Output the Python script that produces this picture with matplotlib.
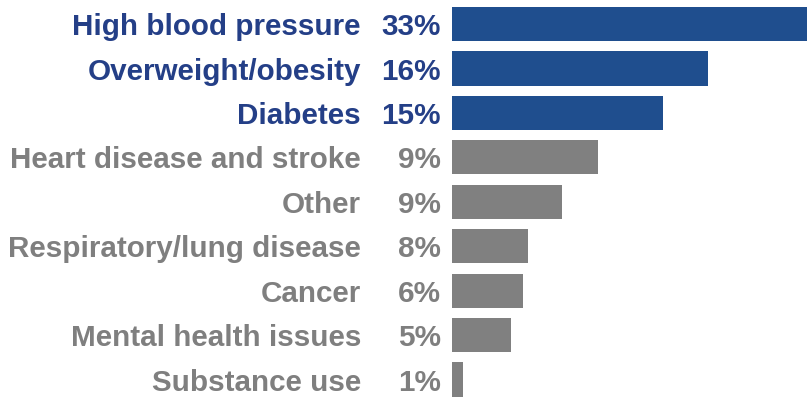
import matplotlib.pyplot as plt
from matplotlib.transforms import blended_transform_factory

categories = ["High blood pressure", "Overweight/obesity", "Diabetes",
              "Heart disease and stroke", "Other", "Respiratory/lung disease",
              "Cancer", "Mental health issues", "Substance use"]
pct_labels = ["33%", "16%", "15%", "9%", "9%", "8%", "6%", "5%", "1%"]
# bar lengths as drawn in the picture (same scale as the top bar = 33)
bar_lengths = [33, 23.8, 19.6, 13.6, 10.2, 7.1, 6.6, 5.5, 1.0]
highlighted = [True, True, True, False, False, False, False, False, False]

blue_bar = "#1f4e8e"
blue_text = "#243f87"
gray_bar = "#808080"
gray_text = "#7f7f7f"


def draw_chart():
    plt.rcParams['font.family'] = ['Liberation Sans', 'DejaVu Sans']
    fig = plt.figure(figsize=(8.07, 4.0), dpi=100)
    ax = fig.add_axes([452 / 807, 0, 355 / 807, 1])
    ys = range(len(categories))
    colors = [blue_bar if h else gray_bar for h in highlighted]
    ax.barh(ys, bar_lengths, height=0.77, color=colors, edgecolor="none")
    ax.set_xlim(0, bar_lengths[0])
    ax.set_ylim(8.46, -0.54)
    ax.axis("off")

    trans = blended_transform_factory(fig.transFigure, ax.transData)
    for i, (name, pct) in enumerate(zip(categories, pct_labels)):
        c = blue_text if highlighted[i] else gray_text
        ax.text(361 / 807, i + 0.25, name, transform=trans, ha="right", va="baseline",
                fontsize=21.3, fontweight="bold", color=c)
        ax.text(441 / 807, i + 0.25, pct, transform=trans, ha="right", va="baseline",
                fontsize=21.3, fontweight="bold", color=c)

    fig.savefig("out.png", dpi=100)


if __name__ == "__main__":
    draw_chart()
